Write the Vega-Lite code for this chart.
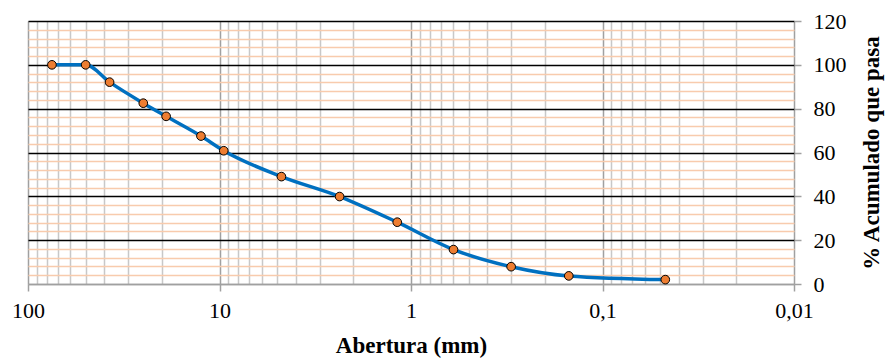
{
  "$schema": "https://vega.github.io/schema/vega-lite/v6.json",
  "width": 766,
  "height": 263,
  "autosize": {"type": "none"},
  "padding": {"left": 28, "top": 21, "right": 92, "bottom": 74},
  "background": "white",
  "config": {
    "view": {"stroke": null},
    "axis": {"labelFont": "Liberation Serif", "titleFont": "Liberation Serif", "labelColor": "black", "titleColor": "black"}
  },
  "data": {
    "values": [
      {"abertura": 75, "pasa": 100},
      {"abertura": 50, "pasa": 100},
      {"abertura": 37.5, "pasa": 92.1},
      {"abertura": 25, "pasa": 82.5},
      {"abertura": 19, "pasa": 76.5},
      {"abertura": 12.5, "pasa": 67.5},
      {"abertura": 9.5, "pasa": 60.8},
      {"abertura": 4.75, "pasa": 49.0},
      {"abertura": 2.36, "pasa": 39.9},
      {"abertura": 1.18, "pasa": 28.2},
      {"abertura": 0.6, "pasa": 15.7},
      {"abertura": 0.3, "pasa": 7.9},
      {"abertura": 0.15, "pasa": 3.7},
      {"abertura": 0.047, "pasa": 2.0}
    ]
  },
  "resolve": {"axis": {"x": "independent", "y": "independent"}},
  "layer": [
    {
      "mark": {"type": "line", "color": "#0070C0", "strokeWidth": 3.5, "interpolate": "monotone"},
      "encoding": {
        "x": {
          "field": "abertura", "type": "quantitative",
          "scale": {"type": "log", "domain": [0.01, 100], "reverse": true, "nice": false},
          "axis": {
            "orient": "top", "title": null, "labels": false, "ticks": false, "domain": false,
            "values": [0.02,0.03,0.04,0.05,0.06,0.07,0.08,0.09,0.2,0.3,0.4,0.5,0.6,0.7,0.8,0.9,2,3,4,5,6,7,8,9,20,30,40,50,60,70,80,90],
            "grid": true, "gridColor": "#c8c8c8", "gridWidth": 1.5, "gridOpacity": 1
          }
        },
        "y": {
          "field": "pasa", "type": "quantitative",
          "scale": {"domain": [0, 120], "nice": false, "zero": true},
          "axis": {
            "orient": "left", "title": null, "labels": false, "ticks": false, "domain": false,
            "values": [4,8,12,16,24,28,32,36,44,48,52,56,64,68,72,76,84,88,92,96,104,108,112,116],
            "grid": true, "gridColor": "#F8CBAD", "gridWidth": 1.5, "gridOpacity": 1
          }
        }
      }
    },
    {
      "mark": {"type": "point", "filled": true, "fill": "#ED7D31", "stroke": "black", "strokeWidth": 1, "size": 75, "opacity": 1},
      "encoding": {
        "x": {
          "field": "abertura", "type": "quantitative",
          "title": "Abertura (mm)",
          "axis": {
            "orient": "bottom",
            "values": [0.01, 0.1, 1, 10, 100],
            "labelExpr": "replace(format(datum.value, ''), '.', ',')",
            "labelFontSize": 22, "labelPadding": 9, "labelFlush": false,
            "tickSize": 7, "tickColor": "#a0a0a0", "tickWidth": 1.5,
            "domainColor": "#a0a0a0", "domainWidth": 1.5,
            "grid": true, "gridColor": "#a0a0a0", "gridWidth": 1.5, "gridOpacity": 1,
            "titleFontSize": 23, "titleFontWeight": "bold", "titlePadding": 13
          }
        },
        "y": {
          "field": "pasa", "type": "quantitative",
          "title": "% Acumulado que pasa",
          "axis": {
            "orient": "right",
            "values": [0, 20, 40, 60, 80, 100, 120],
            "labelFontSize": 22, "labelPadding": 12,
            "tickSize": 7, "tickColor": "#a0a0a0", "tickWidth": 1.5,
            "domain": false,
            "grid": true,
            "gridColor": {"condition": {"test": "datum.value === 0", "value": "#a0a0a0"}, "value": "#000000"},
            "gridWidth": 1.5, "gridOpacity": 1,
            "titleFontSize": 23, "titleFontWeight": "bold", "titlePadding": 37, "titleAngle": 270
          }
        }
      }
    }
  ]
}
